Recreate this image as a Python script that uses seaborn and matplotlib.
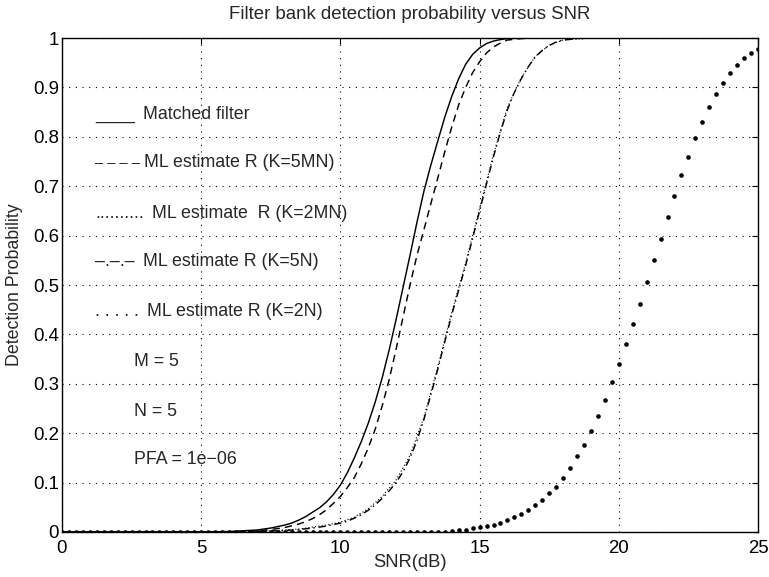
import matplotlib
matplotlib.use("Agg")
import matplotlib.pyplot as plt
import seaborn as sns

# ---------------- data ----------------
matched_snr = [0, 5, 6, 7, 7.5, 8, 8.25, 8.5, 8.75, 9, 9.25, 9.5, 9.75, 10, 10.25, 10.5,
               10.75, 11, 11.25, 11.5, 11.75, 12, 12.25, 12.5, 12.75, 13, 13.25, 13.5,
               13.75, 14, 14.25, 14.5, 14.75, 15, 15.25, 15.5, 15.75, 16, 16.5, 25]
matched_pd = [0, 0, 0.001, 0.004, 0.008, 0.014, 0.018, 0.024, 0.031, 0.04, 0.049, 0.061,
              0.076, 0.095, 0.12, 0.15, 0.183, 0.22, 0.263, 0.312, 0.368, 0.43, 0.495,
              0.56, 0.627, 0.69, 0.743, 0.792, 0.84, 0.882, 0.918, 0.947, 0.967, 0.98,
              0.989, 0.994, 0.997, 0.999, 1.0, 1.0]

k5mn_snr = [0, 6, 7, 7.5, 8, 8.5, 8.75, 9, 9.25, 9.5, 9.75, 10, 10.25, 10.5, 10.75, 11,
            11.25, 11.5, 11.75, 12, 12.25, 12.5, 12.75, 13, 13.25, 13.5, 13.75, 14, 14.25,
            14.5, 14.75, 15, 15.25, 15.5, 15.75, 16, 16.5, 17, 25]
k5mn_pd = [0, 0, 0.002, 0.005, 0.009, 0.016, 0.021, 0.027, 0.035, 0.045, 0.058, 0.072,
           0.09, 0.11, 0.138, 0.17, 0.208, 0.255, 0.308, 0.37, 0.435, 0.5, 0.56, 0.612,
           0.665, 0.717, 0.77, 0.82, 0.865, 0.9, 0.93, 0.952, 0.97, 0.982, 0.99, 0.996,
           0.999, 1.0, 1.0]

k2mn_snr = [0, 6, 7, 8, 8.5, 9, 9.5, 10, 10.5, 11, 11.5, 12, 12.5, 13, 13.5, 14, 14.5, 15,
            15.5, 16, 16.5, 17, 17.5, 18, 19, 25]
k2mn_pd = [0, 0, 0.001, 0.004, 0.006, 0.01, 0.014, 0.02, 0.03, 0.047, 0.072, 0.105, 0.155,
           0.232, 0.335, 0.445, 0.545, 0.655, 0.765, 0.86, 0.92, 0.963, 0.986, 0.996, 1.0, 1.0]

k5n_snr = [0, 6, 7, 8, 8.5, 9, 9.5, 10, 10.25, 10.5, 10.75, 11, 11.25, 11.5, 11.75, 12,
           12.25, 12.5, 12.75, 13, 13.25, 13.5, 13.75, 14, 14.25, 14.5, 14.75, 15, 15.25,
           15.5, 15.75, 16, 16.25, 16.5, 16.75, 17, 17.25, 17.5, 17.75, 18, 18.5, 19, 25]
k5n_pd = [0, 0, 0.001, 0.003, 0.005, 0.008, 0.012, 0.018, 0.022, 0.028, 0.035, 0.044,
          0.055, 0.068, 0.083, 0.1, 0.122, 0.15, 0.185, 0.228, 0.278, 0.33, 0.385, 0.44,
          0.49, 0.54, 0.595, 0.65, 0.705, 0.76, 0.81, 0.855, 0.89, 0.918, 0.942, 0.962,
          0.975, 0.985, 0.992, 0.996, 0.999, 1.0, 1.0]

k2n_snr = [0.0, 0.25, 0.5, 0.75, 1.0, 1.25, 1.5, 1.75, 2.0, 2.25, 2.5, 2.75, 3.0, 3.25,
           3.5, 3.75, 4.0, 4.25, 4.5, 4.75, 5.0, 5.25, 5.5, 5.75, 6.0, 6.25, 6.5, 6.75,
           7.0, 7.25, 7.5, 7.75, 8.0, 8.25, 8.5, 8.75, 9.0, 9.25, 9.5, 9.75, 10.0, 10.25,
           10.5, 10.75, 11.0, 11.25, 11.5, 11.75, 12.0, 12.25, 12.5, 12.75, 13.0, 13.25,
           13.5, 13.75, 14.0, 14.25, 14.5, 14.75, 15.0, 15.25, 15.5, 15.75, 16.0, 16.25,
           16.5, 16.75, 17.0, 17.25, 17.5, 17.75, 18.0, 18.25, 18.5, 18.75, 19.0, 19.25,
           19.5, 19.75, 20.0, 20.25, 20.5, 20.75, 21.0, 21.25, 21.5, 21.75, 22.0, 22.25,
           22.5, 22.75, 23.0, 23.25, 23.5, 23.75, 24.0, 24.25, 24.5, 24.75, 25.0]
k2n_pd = [0, 0, 0, 0, 0, 0, 0, 0, 0, 0, 0, 0, 0, 0,
          0, 0, 0, 0, 0, 0, 0, 0, 0, 0, 0, 0, 0, 0,
          0, 0, 0, 0, 0, 0, 0, 0, 0, 0, 0, 0, 0, 0,
          0, 0, 0, 0, 0, 0, 0, 0, 0, 0, 0, 0.001,
          0.001, 0.001, 0.003, 0.004, 0.005, 0.008, 0.010, 0.013, 0.015, 0.019, 0.025, 0.030,
          0.036, 0.045, 0.054, 0.065, 0.078, 0.092, 0.110, 0.130, 0.153, 0.177, 0.204, 0.234,
          0.268, 0.303, 0.340, 0.380, 0.421, 0.462, 0.506, 0.550, 0.594, 0.638, 0.681, 0.722,
          0.760, 0.797, 0.831, 0.861, 0.887, 0.910, 0.930, 0.946, 0.959, 0.970, 0.978]

x_ticks = [0, 5, 10, 15, 20, 25]
x_tick_labels = ["0", "5", "10", "15", "20", "25"]
y_ticks = [0, 0.1, 0.2, 0.3, 0.4, 0.5, 0.6, 0.7, 0.8, 0.9, 1.0]
y_tick_labels = ["0", "0.1", "0.2", "0.3", "0.4", "0.5", "0.6", "0.7", "0.8", "0.9", "1"]

legend_samples = ["____", "\u2013 \u2013 \u2013 \u2013", "..........", "\u2013.\u2013.\u2013", ". . . . ."]
legend_labels = ["Matched filter", "ML estimate R (K=5MN)", "ML estimate  R (K=2MN)",
                 "ML estimate R (K=5N)", "ML estimate R (K=2N)"]
legend_label_x = [2.91, 2.95, 3.23, 2.91, 3.05]
legend_y = [0.836, 0.738, 0.636, 0.539, 0.437]
notes = ["M = 5", "N = 5", "PFA = 1e\u221206"]
notes_y = [0.336, 0.235, 0.138]

# ---------------- style ----------------
sns.set_style("white")
plt.rcParams["font.family"] = ["Liberation Sans", "DejaVu Sans"]

fig, ax = plt.subplots(figsize=(7.69, 5.77), dpi=100)
fig.subplots_adjust(left=0.0806, right=0.9857, top=0.934, bottom=0.078)

lw = 1.05
sns.lineplot(x=matched_snr, y=matched_pd, ax=ax, color="black", linewidth=lw,
             linestyle="-", sort=False, estimator=None)
sns.lineplot(x=k5mn_snr, y=k5mn_pd, ax=ax, color="black", linewidth=lw,
             linestyle=(0, (5, 3.5)), sort=False, estimator=None)
sns.lineplot(x=k2mn_snr, y=k2mn_pd, ax=ax, color="black", linewidth=0.8,
             linestyle=(0, (1, 2)), sort=False, estimator=None)
sns.lineplot(x=k5n_snr, y=k5n_pd, ax=ax, color="black", linewidth=lw,
             linestyle=(0, (5, 2.5, 1, 2.5)), sort=False, estimator=None)
sns.scatterplot(x=k2n_snr, y=k2n_pd, ax=ax, color="black", s=11, marker="o",
                linewidth=0, zorder=3)

ax.set_xlim(0, 25)
ax.set_ylim(0, 1)
ax.set_xticks(x_ticks)
ax.set_xticklabels(x_tick_labels)
ax.set_yticks(y_ticks)
ax.set_yticklabels(y_tick_labels)
ax.tick_params(direction="in", length=4, width=0.8, top=True, right=True,
               labelsize=13.4, colors="black")
ax.tick_params(axis="x", pad=5.5)
ax.tick_params(axis="y", pad=2)
for sp in ax.spines.values():
    sp.set_visible(True)
    sp.set_color("black")
    sp.set_linewidth(1.0)

ax.grid(True, color="black", linestyle=(0, (1, 5)), linewidth=0.8)
ax.set_axisbelow(True)

ax.set_title("Filter bank detection probability versus SNR", fontsize=13.4, pad=14)
ax.set_xlabel("SNR(dB)", fontsize=13.2)
ax.set_ylabel("Detection Probability", fontsize=12.8)
ax.xaxis.set_label_coords(0.5, -0.044)
ax.yaxis.set_label_coords(-0.056, 0.5)

for s, lab, lx, ly in zip(legend_samples, legend_labels, legend_label_x, legend_y):
    fs = 10.5 if s.startswith("\u2013 ") else 12.8
    ax.text(1.185, ly, s, fontsize=fs, va="baseline", ha="left")
    ax.text(lx, ly, lab, fontsize=12.8, va="baseline", ha="left")
for t, ty in zip(notes, notes_y):
    ax.text(2.6, ty, t, fontsize=12.8, va="baseline", ha="left")

fig.savefig("out.png", dpi=100)
